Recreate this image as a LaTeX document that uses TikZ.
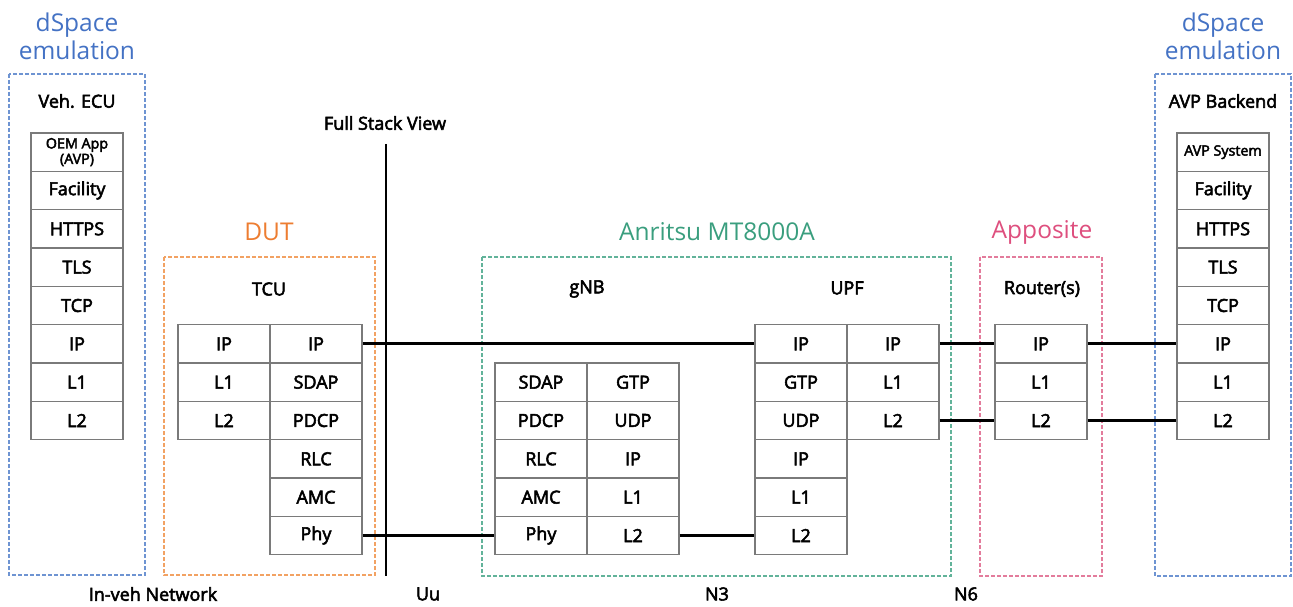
\documentclass[tikz,border=0pt]{standalone}
\usepackage{fontspec}
\setmainfont{Open Sans}
\newfontfamily\semi{Open Sans}[FakeBold=3]
\definecolor{dsblue}{HTML}{4472C4}
\definecolor{dsboxblue}{HTML}{6E94D2}
\definecolor{dutor}{HTML}{ED7D31}
\definecolor{dutbox}{HTML}{F2A263}
\definecolor{angr}{HTML}{3A9E7E}
\definecolor{anbox}{HTML}{62B39A}
\definecolor{appk}{HTML}{DE4F7E}
\definecolor{appbox}{HTML}{E37C9C}
\definecolor{cellgray}{HTML}{7A7A7A}
\begin{document}
\begin{tikzpicture}[x=1pt,y=-1pt,
  cell/.style={draw=cellgray,line width=1.4pt,minimum width=92pt,minimum height=38.33pt,inner sep=0pt,font=\semi\fontsize{18}{19}\selectfont},
  smallcell/.style={cell,font=\semi\fontsize{14.3}{15.5}\selectfont,align=center},
  grp/.style={line width=1.2pt,dash pattern=on 4pt off 2pt},
  title/.style={font=\fontsize{24.5}{28}\selectfont,align=center},
  lab/.style={font=\semi\fontsize{18}{19}\selectfont},
  conn/.style={line width=2.9pt,black}]
\useasboundingbox (0,0) rectangle (1293,607);
\newcommand\cellat[4]{\node[cell] (#1) at (#2,{152.17+38.333*#3}) {#4};}
% group boxes
\draw[grp,dsboxblue] (9,74) rectangle (145,575);
\draw[grp,dutbox] (164,257) rectangle (375,575);
\draw[grp,anbox] (482,257) rectangle (951,576);
\draw[grp,appbox] (980,257) rectangle (1102,576);
\draw[grp,dsboxblue] (1155,74) rectangle (1291,576);
% titles
\node[title,text=dsblue] (t1) at (77,36) {dSpace\\emulation};
\node[title,text=dsblue] (t5) at (1223,36) {dSpace\\emulation};
\node[title,text=dutor] (t2) at (269,232) {DUT};
\node[title,text=angr] (t3) at (717,232) {Anritsu MT8000A};
\node[title,text=appk] (t4) at (1042,232) {Apposite};
% sub labels
\node[lab] (veh) at (77,101) {Veh. ECU};
\node[lab] (avpb) at (1223,101) {AVP Backend};
\node[lab] (tcu) at (269,289) {TCU};
\node[lab] (gnb) at (587,289) {gNB};
\node[lab] (upf) at (847,288) {UPF};
\node[lab] (rtr) at (1042,289) {Router(s)};
\node[lab] (fsv) at (385,123) {Full Stack View};
\node[lab] (inveh) at (153,594) {In-veh Network};
\node[lab] (uu) at (428,594) {Uu};
\node[lab] (n3) at (717,594) {N3};
\node[lab] (n6) at (966,594) {N6};
% left stack
\node[smallcell] (a0) at (77,152.17) {OEM App\\(AVP)};
\cellat{a1}{77}{1}{Facility}
\cellat{a2}{77}{2}{HTTPS}
\cellat{a3}{77}{3}{TLS}
\cellat{a4}{77}{4}{TCP}
\cellat{a5}{77}{5}{IP}
\cellat{a6}{77}{6}{L1}
\cellat{a7}{77}{7}{L2}
% TCU
\cellat{b5}{224}{5}{IP}
\cellat{b6}{224}{6}{L1}
\cellat{b7}{224}{7}{L2}
\cellat{c5}{316}{5}{IP}
\cellat{c6}{316}{6}{SDAP}
\cellat{c7}{316}{7}{PDCP}
\cellat{c8}{316}{8}{RLC}
\cellat{c9}{316}{9}{AMC}
\cellat{c10}{316}{10}{Phy}
% gNB
\cellat{d6}{541}{6}{SDAP}
\cellat{d7}{541}{7}{PDCP}
\cellat{d8}{541}{8}{RLC}
\cellat{d9}{541}{9}{AMC}
\cellat{d10}{541}{10}{Phy}
\cellat{e6}{633}{6}{GTP}
\cellat{e7}{633}{7}{UDP}
\cellat{e8}{633}{8}{IP}
\cellat{e9}{633}{9}{L1}
\cellat{e10}{633}{10}{L2}
% UPF
\cellat{f5}{801}{5}{IP}
\cellat{f6}{801}{6}{GTP}
\cellat{f7}{801}{7}{UDP}
\cellat{f8}{801}{8}{IP}
\cellat{f9}{801}{9}{L1}
\cellat{f10}{801}{10}{L2}
\cellat{g5}{893}{5}{IP}
\cellat{g6}{893}{6}{L1}
\cellat{g7}{893}{7}{L2}
% Router
\cellat{h5}{1041}{5}{IP}
\cellat{h6}{1041}{6}{L1}
\cellat{h7}{1041}{7}{L2}
% AVP backend stack
\node[smallcell] (k0) at (1223,152.17) {AVP System};
\cellat{k1}{1223}{1}{Facility}
\cellat{k2}{1223}{2}{HTTPS}
\cellat{k3}{1223}{3}{TLS}
\cellat{k4}{1223}{4}{TCP}
\cellat{k5}{1223}{5}{IP}
\cellat{k6}{1223}{6}{L1}
\cellat{k7}{1223}{7}{L2}
% connectors
\coordinate (fsvt) at (386,144);
\coordinate (fsvb) at (386,576);
\draw[conn] (fsvt) -- (fsvb);
\draw[conn] (c5.east) -- (f5.west);
\draw[conn] (c10.east) -- (d10.west);
\draw[conn] (e10.east) -- (f10.west);
\draw[conn] (g5.east) -- (h5.west);
\draw[conn] (g7.east) -- (h7.west);
\draw[conn] (h5.east) -- (k5.west);
\draw[conn] (h7.east) -- (k7.west);
\end{tikzpicture}
\end{document}
